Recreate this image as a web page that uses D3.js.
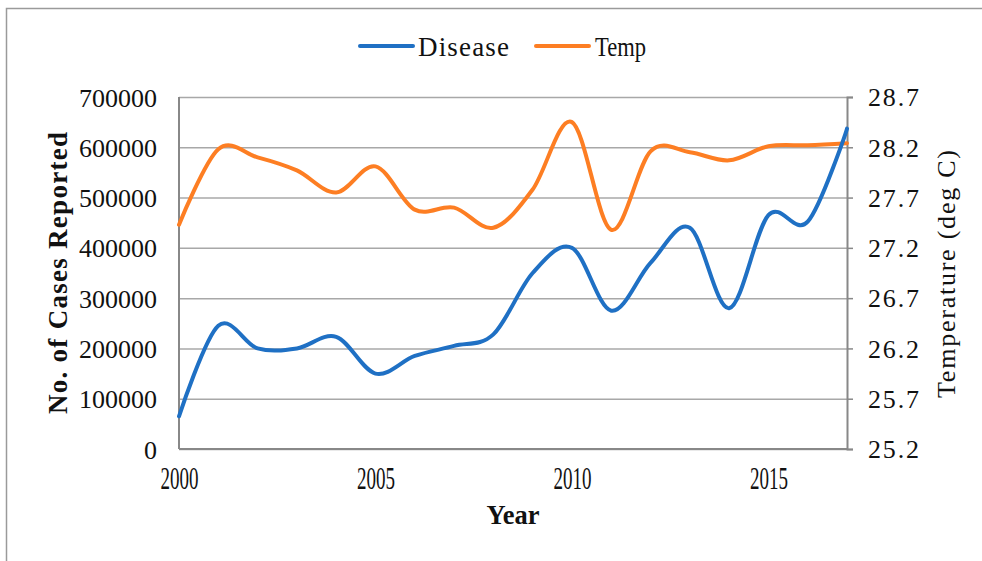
<!DOCTYPE html>
<html>
<head>
<meta charset="utf-8">
<script src="https://cdn.jsdelivr.net/npm/d3@7/dist/d3.min.js"></script>
<style>
  html, body { margin: 0; padding: 0; background: #fff; }
  svg { display: block; }
</style>
</head>
<body>
<svg id="chart" width="982" height="561"></svg>
<script>
// ---- data ----
const years = [2000,2001,2002,2003,2004,2005,2006,2007,2008,2009,2010,2011,2012,2013,2014,2015,2016,2017];
const disease = [65000,245000,200000,200000,223000,150000,185000,205000,228000,350000,400000,275000,370000,440000,280000,465000,452000,637000];
const temp = [27.43,28.18,28.10,27.97,27.75,28.01,27.58,27.60,27.40,27.78,28.45,27.38,28.16,28.15,28.07,28.21,28.22,28.24];
const xTicks = [2000,2005,2010,2015];
const leftTicks = [0,100000,200000,300000,400000,500000,600000,700000];
const rightTicks = [25.2,25.7,26.2,26.7,27.2,27.7,28.2,28.7];
const seriesNames = ["Disease","Temp"];
const seriesColors = ["#1f70c4","#fd7e23"];

const svg = d3.select("#chart");
const m = {left:179, right:847, top:97, bottom:449};

const x = d3.scaleLinear().domain([2000,2017]).range([m.left, m.right]);
const yL = d3.scaleLinear().domain([0,700000]).range([m.bottom, m.top]);
const yR = d3.scaleLinear().domain([25.2,28.7]).range([m.bottom, m.top]);

// outer border (chart area frame)
svg.append("path")
  .attr("d", "M6.5,561 L6.5,8.5 L982,8.5")
  .attr("fill","none").attr("stroke","#9a9a9a").attr("stroke-width",1.5);

// gridlines
const gridG = svg.append("g")
  .attr("transform", `translate(${m.left},0)`)
  .call(d3.axisLeft(yL).tickValues(leftTicks).tickSize(-(m.right-m.left)).tickFormat(""));
gridG.select(".domain").remove();
gridG.selectAll(".tick line").attr("stroke","#a8a8a8").attr("stroke-width",1.5);

// left axis labels
const leftAx = svg.append("g")
  .attr("transform", `translate(${m.left},0)`)
  .call(d3.axisLeft(yL).tickValues(leftTicks).tickSize(0).tickPadding(22).tickFormat(d3.format("d")));
leftAx.select(".domain").remove();
leftAx.selectAll("text")
  .attr("font-family","'Liberation Serif', serif").attr("font-size",26).attr("fill","#111")
  .attr("dy","0.35em");

// right axis
const rightAx = svg.append("g")
  .attr("transform", `translate(${m.right},0)`)
  .call(d3.axisRight(yR).tickValues(rightTicks).tickSize(6).tickPadding(15).tickFormat(d3.format(".1f")));
rightAx.select(".domain").attr("stroke","#888").attr("stroke-width",2);
rightAx.selectAll(".tick line").attr("stroke","#888").attr("stroke-width",1.5);
rightAx.selectAll("text")
  .attr("font-family","'Liberation Serif', serif").attr("font-size",26).attr("fill","#111")
  .attr("dy","0.34em")
  .attr("textLength",51).attr("lengthAdjust","spacing");

// bottom axis
const botAx = svg.append("g")
  .attr("transform", `translate(0,${m.bottom})`)
  .call(d3.axisBottom(x).tickValues(xTicks).tickSize(0).tickFormat(d3.format("d")));
botAx.select(".domain").remove();
botAx.selectAll("text")
  .attr("font-family","'Liberation Serif', serif").attr("font-size",31).attr("fill","#111")
  .attr("y",40).attr("dy",null)
  .attr("textLength",38).attr("lengthAdjust","spacingAndGlyphs");

// axis lines (left & bottom)
svg.append("line").attr("x1",m.left).attr("x2",m.left).attr("y1",m.top).attr("y2",m.bottom)
  .attr("stroke","#888").attr("stroke-width",2);
svg.append("line").attr("x1",m.left).attr("x2",m.right).attr("y1",m.bottom).attr("y2",m.bottom)
  .attr("stroke","#888").attr("stroke-width",2);

// series
const curve = d3.curveCatmullRom.alpha(0);
const lineD = d3.line().x((d,i)=>x(years[i])).y(d=>yL(d)).curve(curve);
const lineT = d3.line().x((d,i)=>x(years[i])).y(d=>yR(d)).curve(curve);
svg.append("path").datum(temp).attr("d",lineT)
  .attr("fill","none").attr("stroke",seriesColors[1]).attr("stroke-width",4).attr("stroke-linecap","round");
svg.append("path").datum(disease).attr("d",lineD)
  .attr("fill","none").attr("stroke",seriesColors[0]).attr("stroke-width",4).attr("stroke-linecap","round");

// legend
const legendPos = [{lx:360, tx:418, tl:91},{lx:536, tx:595, tl:51}];
seriesNames.forEach((name,i)=>{
  const p = legendPos[i];
  svg.append("line").attr("x1",p.lx).attr("x2",p.lx+53).attr("y1",46).attr("y2",46)
    .attr("stroke",seriesColors[i]).attr("stroke-width",4).attr("stroke-linecap","round");
  svg.append("text").attr("x",p.tx).attr("y",56)
    .attr("font-family","'Liberation Serif', serif").attr("font-size",27).attr("fill","#111")
    .attr("textLength",p.tl).attr("lengthAdjust", i === 0 ? "spacing" : "spacingAndGlyphs")
    .text(name);
});

// axis titles
svg.append("text").attr("x",513).attr("y",524).attr("text-anchor","middle")
  .attr("font-family","'Liberation Serif', serif").attr("font-size",27).attr("font-weight","bold").attr("fill","#111")
  .attr("textLength",53).attr("lengthAdjust","spacingAndGlyphs")
  .text("Year");

svg.append("text")
  .attr("transform","translate(67,273) rotate(-90)")
  .attr("text-anchor","middle")
  .attr("font-family","'Liberation Serif', serif").attr("font-size",27).attr("font-weight","bold").attr("fill","#111")
  .attr("textLength",282).attr("lengthAdjust","spacing")
  .text("No. of Cases Reported");

svg.append("text")
  .attr("transform","translate(955,274) rotate(-90)")
  .attr("text-anchor","middle")
  .attr("font-family","'Liberation Serif', serif").attr("font-size",26).attr("fill","#111")
  .attr("textLength",248).attr("lengthAdjust","spacing")
  .text("Temperature (deg C)");
</script>
</body>
</html>
